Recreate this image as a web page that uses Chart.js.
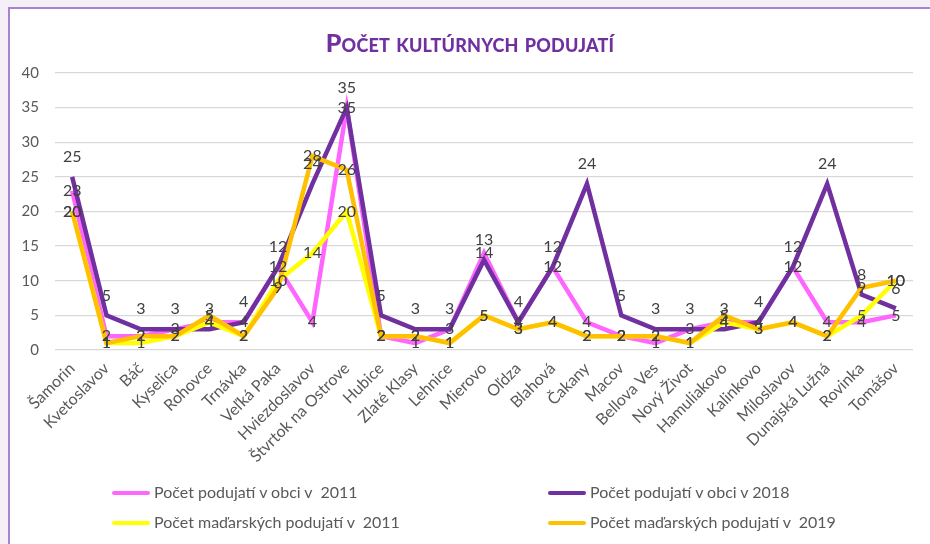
<!DOCTYPE html>
<html>
<head>
<meta charset="utf-8">
<script src="https://cdn.jsdelivr.net/npm/chart.js@4"></script>
<style>
  html, body { margin: 0; padding: 0; }
  body { width: 930px; height: 544px; background: #f5f0f7; position: relative; overflow: hidden; font-family: Lato, "Open Sans", sans-serif; }
  #panel { position: absolute; left: 8px; top: 7px; right: 0; bottom: 0; background: #fff; border-left: 2px solid #a884cf; border-top: 2px solid #a884cf; }
  #chartWrap { position: absolute; left: 0; top: 0; width: 930px; height: 544px; }
  #title { position: absolute; left: 0; width: 940px; top: 27px; text-align: center; color: #7030a0; font-family: Lato, sans-serif; font-weight: 900; font-variant: small-caps; font-size: 25px; letter-spacing: 0.2px; }
  .leg { position: absolute; font-size: 16px; color: #595959; white-space: pre; line-height: 18px; }
  .leg span.sw { display: inline-block; width: 38px; height: 4px; border-radius: 2px; vertical-align: middle; margin-right: 4px; position: relative; top: -1px; }
</style>
</head>
<body>
<div id="panel"></div>
<div id="chartWrap"><canvas id="c" width="930" height="544"></canvas></div>
<div id="title">Počet kultúrnych podujatí</div>
<div id="legend"></div>
<script>
const categories = ['Šamorin','Kvetoslavov','Báč','Kyselica','Rohovce','Trnávka','Veľká Paka','Hviezdoslavov','Štvrtok na Ostrove','Hubice','Zlaté Klasy','Lehnice','Mierovo','Oľdza','Blahová','Čakany','Macov','Bellova Ves','Nový Život','Hamuliakovo','Kalinkovo','Miloslavov','Dunajská Lužná','Rovinka','Tomášov'];
const events2011 = [23,2,2,3,4,4,12,4,35,2,1,3,14,4,12,4,2,1,3,4,4,12,4,4,5];
const events2018 = [25,5,3,3,3,4,12,24,35,5,3,3,13,4,12,24,5,3,3,3,4,12,24,8,6];
const hungarian2011 = [20,1,1,2,4,2,10,14,20,2,2,1,5,3,4,2,2,2,1,4,3,4,2,5,10];
const hungarian2019 = [20,1,2,2,5,2,9,28,26,2,2,1,5,3,4,2,2,2,1,5,3,4,2,9,10];
const seriesNames = ['Počet podujatí v obci v  2011','Počet podujatí v obci v 2018','Počet maďarských podujatí v  2011','Počet maďarských podujatí v  2019'];
const seriesColors = ['#ff66ff','#7030a0','#ffff00','#ffc000'];
const yTicks = [0,5,10,15,20,25,30,35,40];

const seriesData = [events2011, events2018, hungarian2011, hungarian2019];
const labelAbove = [false, true, false, false];

const datasets = seriesData.map((d, i) => ({
  label: seriesNames[i],
  data: d,
  borderColor: seriesColors[i],
  backgroundColor: seriesColors[i],
  borderWidth: 4.5,
  pointRadius: 0,
  pointHoverRadius: 0,
  tension: 0,
  fill: false,
  order: 4 - i
}));

const dataLabels = {
  id: 'dataLabels',
  afterDatasetsDraw(chart) {
    const ctx = chart.ctx;
    ctx.save();
    ctx.font = '16px Lato, sans-serif';
    ctx.fillStyle = '#404040';
    ctx.textAlign = 'center';
    ctx.textBaseline = 'middle';
    chart.data.datasets.forEach((ds, i) => {
      const meta = chart.getDatasetMeta(i);
      meta.data.forEach((pt, j) => {
        const off = labelAbove[i] ? -20 : 0;
        ctx.fillText(String(ds.data[j]), pt.x, pt.y + off);
      });
    });
    ctx.restore();
  }
};

new Chart(document.getElementById('c'), {
  type: 'line',
  data: { labels: categories, datasets },
  options: {
    responsive: false,
    animation: false,
    layout: { padding: { left: 0, right: 17, top: 73, bottom: 0 } },
    plugins: { legend: { display: false }, title: { display: false }, tooltip: { enabled: false } },
    scales: {
      x: {
        offset: true,
        grid: { display: false, drawTicks: false, offset: true },
        border: { display: false },
        ticks: { color: '#595959', font: { family: 'Lato', size: 16 }, minRotation: 45, maxRotation: 45, padding: 9, autoSkip: false },
        afterFit(scale) { scale.height = 194; }
      },
      y: {
        min: 0, max: 40,
        afterBuildTicks(scale) { scale.ticks = yTicks.map(v => ({ value: v })); },
        grid: { color: '#d9d9d9', lineWidth: 1.3, drawTicks: false },
        border: { display: false },
        ticks: { color: '#595959', font: { family: 'Lato', size: 15 }, padding: 16 },
        afterFit(scale) { scale.width = 55; }
      }
    }
  },
  plugins: [dataLabels]
});

// HTML legend laid out as 2x2 grid
const legendPos = [[112, 483], [548, 483], [112, 513], [548, 513]];
const legendEl = document.getElementById('legend');
seriesNames.forEach((n, i) => {
  const d = document.createElement('div');
  d.className = 'leg';
  d.style.left = legendPos[i][0] + 'px';
  d.style.top = legendPos[i][1] + 'px';
  d.innerHTML = '<span class="sw" style="background:' + seriesColors[i] + '"></span>';
  d.appendChild(document.createTextNode(n));
  legendEl.appendChild(d);
});
</script>
</body>
</html>
